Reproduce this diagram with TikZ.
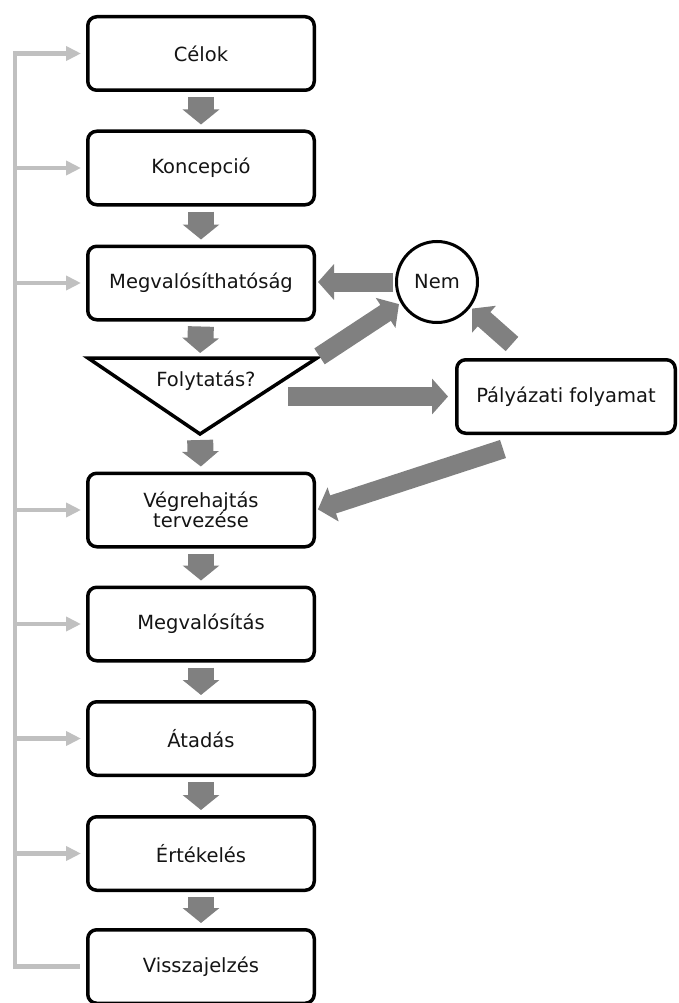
\documentclass[tikz,border=0pt]{standalone}
\usepackage{fontspec}
\setmainfont{DejaVu Sans}
\usetikzlibrary{arrows.meta}
\definecolor{flowgray}{HTML}{808080}
\definecolor{loopgray}{HTML}{C0C0C0}
\definecolor{inkdark}{HTML}{141414}
\begin{document}
\begin{tikzpicture}[x=1pt,y=-1pt,
  label font/.style={font=\fontsize{19.5}{20.5}\selectfont, text=inkdark},
  stepbox/.style={draw=black, line width=3.5pt, rounded corners=9pt, fill=white,
    minimum width=226.5pt, minimum height=73.5pt, inner sep=0pt, align=center, label font},
  roundnode/.style={draw=black, line width=3pt, circle, fill=white,
    minimum size=81pt, inner sep=0pt, label font},
  downarrow/.style={draw=flowgray, line width=26pt, -{Triangle[length=15pt,width=36pt]},
    shorten <=5pt, shorten >=5pt},
  bigarrow/.style={draw=flowgray, line width=19pt, -{Triangle[length=16pt,width=35pt]}},
  loopline/.style={draw=loopgray, line width=4.5pt, line join=miter},
  looparrow/.style={loopline, -{Triangle[length=15pt,width=14pt]}, shorten >=5pt}
]
\useasboundingbox (0,0) rectangle (678,1003);
\clip (0,0) rectangle (678,1003);

% main column of steps
\node[stepbox] (celok) at (201,53.5)  {Célok};
\node[stepbox] (konc)  at (201,168)   {Koncepció};
\node[stepbox] (megv)  at (201,283)   {Megvalósíthatóság};
\node[stepbox] (vegr)  at (201,510)   {Végrehajtás\\tervezése};
\node[stepbox] (megvs) at (201,624)   {Megvalósítás};
\node[stepbox] (atad)  at (201,738.5) {Átadás};
\node[stepbox] (ert)   at (201,853.5) {Értékelés};
\node[stepbox] (visz)  at (201,966.5) {Visszajelzés};

% decision triangle
\coordinate (fl) at (88,358);
\coordinate (fr) at (317,358);
\coordinate (fb) at (200,434);
\coordinate (ftop) at (200,358);
\draw[line width=3.5pt, line join=miter, fill=white] (fl) -- (fr) -- (fb) -- cycle;
\node[label font, inner sep=0pt] (fork) at (206,381) {Folytatás?};

% side nodes
\node[roundnode] (nem) at (437,282) {Nem};
\node[stepbox, minimum width=218.5pt] (pal) at (566,396.5) {Pályázati folyamat};

% downward flow arrows
\draw[downarrow] (celok.south) -- (konc.north);
\draw[downarrow] (konc.south) -- (megv.north);
\draw[downarrow] (megv.south) -- (ftop);
\draw[downarrow, shorten <=6pt] (fb) -- (vegr.north);
\draw[downarrow] (vegr.south) -- (megvs.north);
\draw[downarrow] (megvs.south) -- (atad.north);
\draw[downarrow] (atad.south) -- (ert.north);
\draw[downarrow] (ert.south) -- (visz.north);

% side flow arrows
\coordinate (forkout) at (288,396.5);
\coordinate (palup) at (512,344);
\coordinate (paldown) at (503,449);
\draw[bigarrow, shorten <=2pt, shorten >=2pt] (nem.west) -- (nem.west -| megv.east);
\draw[bigarrow, shorten <=3pt, shorten >=2pt] (fr) -- (nem.210);
\draw[bigarrow, shorten >=7pt] (forkout) -- (pal.west);
\draw[bigarrow, shorten >=2pt] (palup) -- (nem.-37);
\draw[bigarrow, shorten >=2pt] (paldown) -- (vegr.east);

% feedback loop on the left
\coordinate (spine) at (15,0);
\draw[looparrow, shorten <=6pt] (visz.west) -- (visz.west -| spine) -- (celok.west -| spine) -- (celok.west);
\foreach \n in {konc,megv,vegr,megvs,atad,ert}
  \draw[looparrow] (\n.west -| spine) -- (\n.west);
\end{tikzpicture}
\end{document}
